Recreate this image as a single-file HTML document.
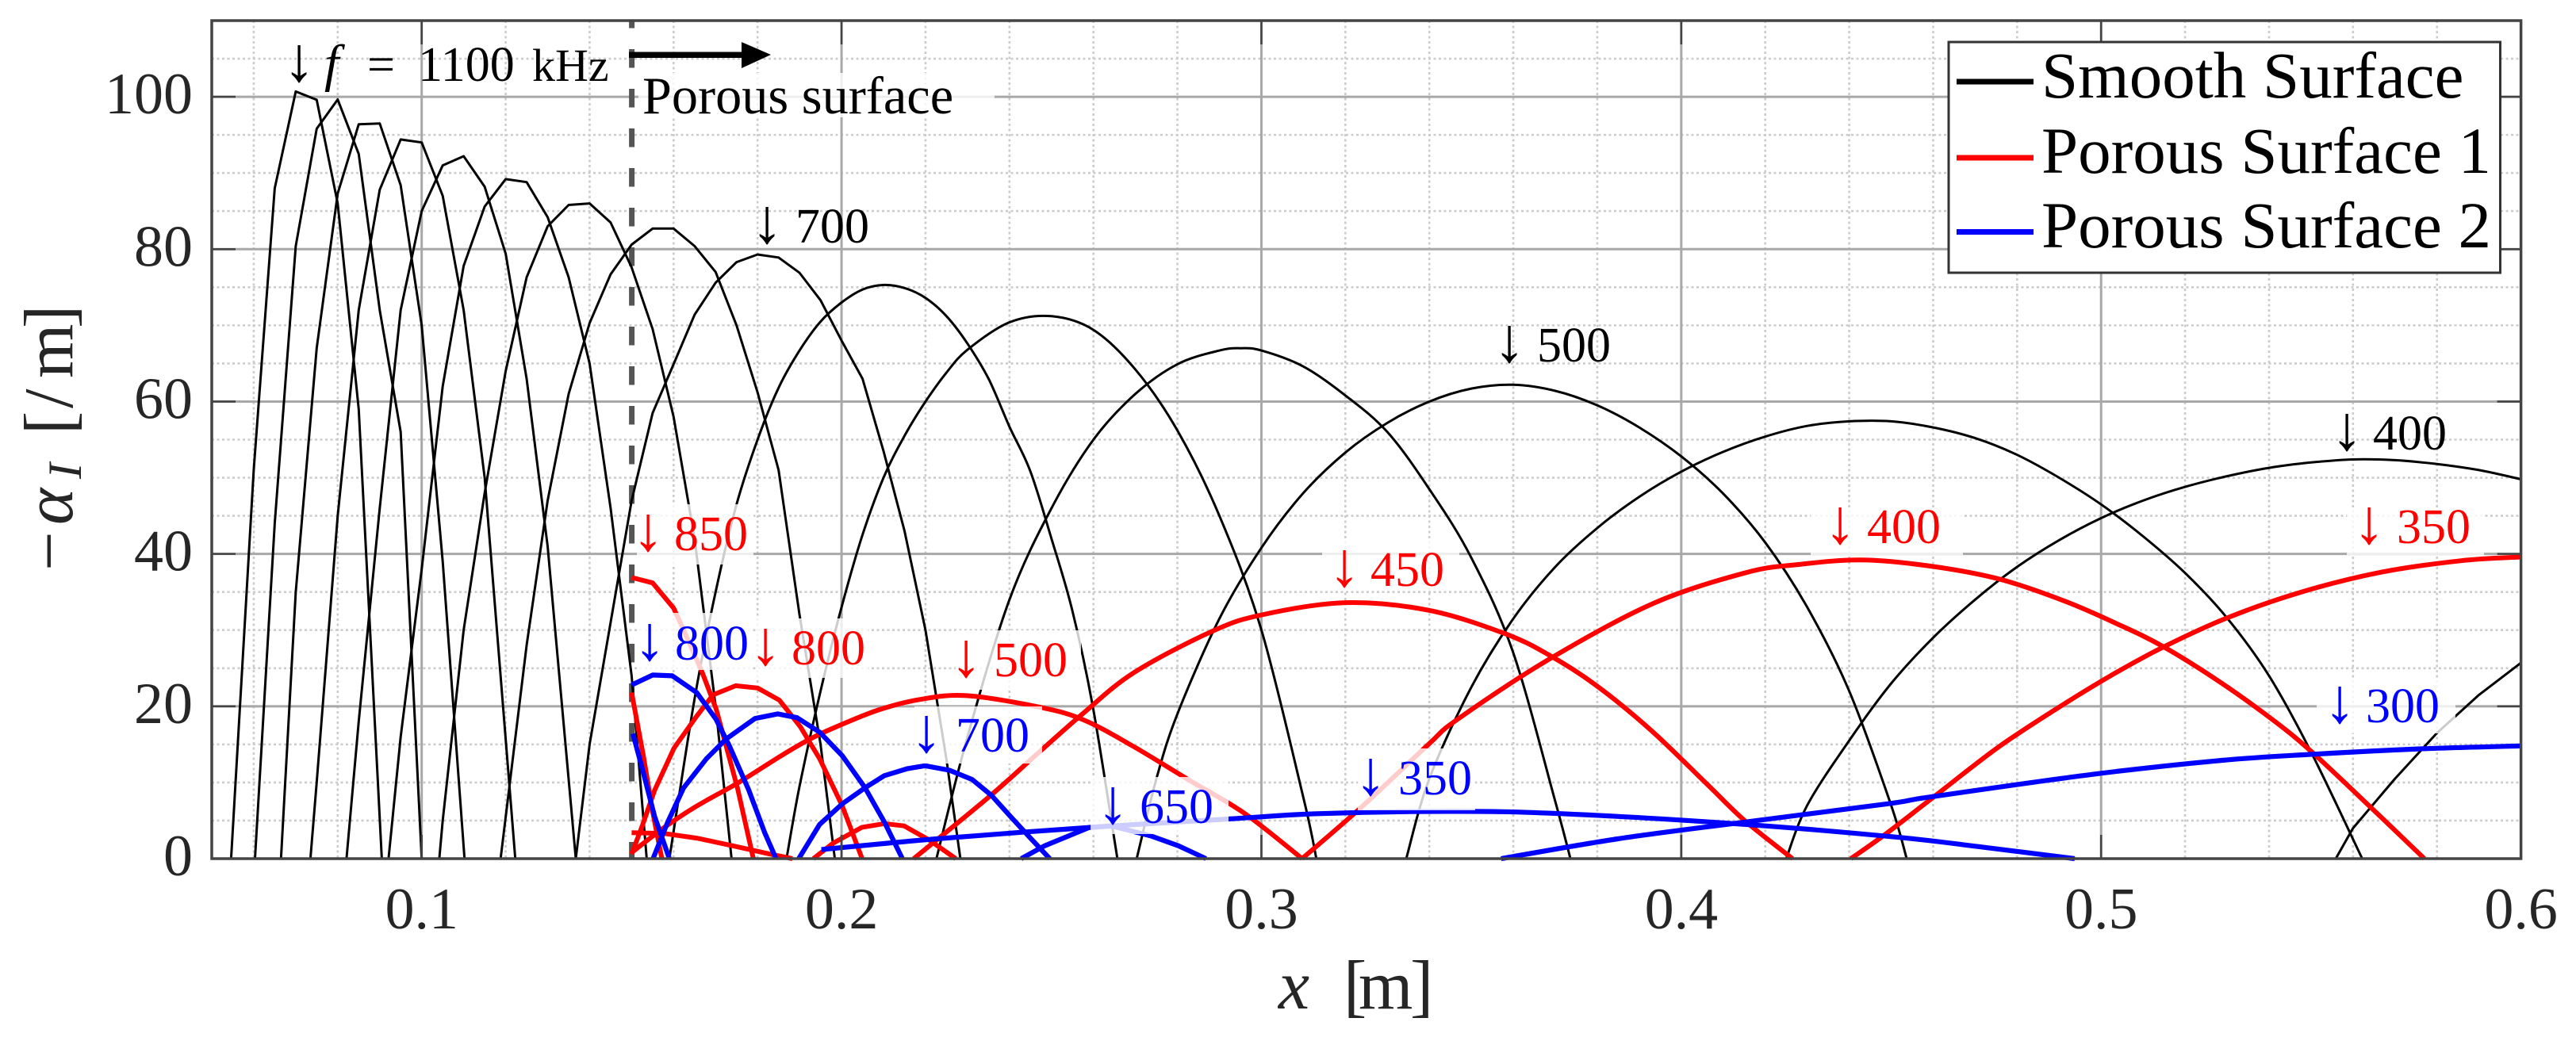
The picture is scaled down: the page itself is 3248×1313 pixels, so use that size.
<!DOCTYPE html>
<html lang="en">
<head>
<meta charset="utf-8">
<title>Growth rate versus x</title>
<style>
html,body{margin:0;padding:0;background:#fff;}
svg{display:block;}
text{font-family:"Liberation Serif",serif;}
.tick{font-size:74px;fill:#262626;}
.lbl{font-size:62px;}
.arr{font-size:80px;}
.box{fill:#fff;fill-opacity:.8;stroke:none;}
</style>
</head>
<body>
<svg id="chart" xmlns="http://www.w3.org/2000/svg" width="3248" height="1313" viewBox="0 0 3248 1313">
  <rect x="0" y="0" width="3248" height="1313" fill="#fff"/>
  <g id="grid"></g>
  <line x1="796.6" y1="26" x2="796.6" y2="1083" stroke="#555" stroke-width="7" stroke-dasharray="23.5 26.5" stroke-dashoffset="14"/>
  <g id="series"></g>

  <g>
    <rect class="box" x="805" y="92" width="449" height="56"/>
    <rect class="box" x="803" y="636" width="147" height="76"/>
    <rect class="box" x="805" y="773" width="143" height="72"/>
    <rect class="box" x="954" y="780" width="141" height="75"/>
    <rect class="box" x="1205" y="795" width="158" height="75"/>
    <rect class="box" x="1153" y="891" width="161" height="72"/>
    <rect class="box" x="1375" y="980" width="174" height="72"/>
    <rect class="box" x="1712" y="944" width="148" height="78"/>
    <rect class="box" x="1667" y="680" width="173" height="65"/>
    <rect class="box" x="2283" y="640" width="192" height="60"/>
    <rect class="box" x="2959" y="640" width="173" height="60"/>
    <rect class="box" x="2921" y="855" width="175" height="70"/>
  </g>

  <rect x="267" y="26" width="2911.6" height="1057" fill="none" stroke="#444" stroke-width="3.5"/>
  <g id="ticks"></g>

  <text y="1272" font-size="88" fill="#262626"><tspan x="1612" font-style="italic">x</tspan><tspan x="1694">[</tspan><tspan x="1713">m</tspan><tspan x="1778">]</tspan></text>
  <text transform="translate(91,720) rotate(-90)" font-size="88" fill="#262626"><tspan x="0">−</tspan><tspan x="58" font-style="italic">α</tspan><tspan x="116" dy="11" font-size="60" font-style="italic">I</tspan><tspan x="172" dy="-11">[</tspan><tspan x="205">/</tspan><tspan x="243">m</tspan><tspan x="306">]</tspan></text>

  <g fill="#000">
    <text class="arr" x="377" y="102" text-anchor="middle">↓</text>
    <text x="409" y="102" font-size="66" font-style="italic">f</text>
    <text class="lbl" x="463" y="102">=</text>
    <text class="lbl" x="527" y="102">1100</text>
    <text x="671" y="102" font-size="58">kHz</text>
  </g>
  <polygon fill="#000" points="793,65.5 935,65.5 935,53 972,69 935,86 935,73 793,73"/>
  <text x="810" y="143" font-size="66.3" fill="#000">Porous surface</text>

  <g fill="#000"><text class="arr" x="967" y="306" text-anchor="middle">↓</text><text class="lbl" x="1003" y="306">700</text></g>
  <g fill="#000"><text class="arr" x="1903" y="456" text-anchor="middle">↓</text><text class="lbl" x="1938" y="456">500</text></g>
  <g fill="#000"><text class="arr" x="2959" y="567" text-anchor="middle">↓</text><text class="lbl" x="2992" y="567">400</text></g>
  <g fill="#f00"><text class="arr" x="817" y="694" text-anchor="middle">↓</text><text class="lbl" x="850" y="694">850</text></g>
  <g fill="#f00"><text class="arr" x="965" y="838" text-anchor="middle">↓</text><text class="lbl" x="998" y="838">800</text></g>
  <g fill="#f00"><text class="arr" x="1218" y="853" text-anchor="middle">↓</text><text class="lbl" x="1253" y="853">500</text></g>
  <g fill="#f00"><text class="arr" x="1695" y="739" text-anchor="middle">↓</text><text class="lbl" x="1728" y="739">450</text></g>
  <g fill="#f00"><text class="arr" x="2320" y="685" text-anchor="middle">↓</text><text class="lbl" x="2354" y="685">400</text></g>
  <g fill="#f00"><text class="arr" x="2987" y="685" text-anchor="middle">↓</text><text class="lbl" x="3022" y="685">350</text></g>
  <g fill="#00f"><text class="arr" x="819" y="832" text-anchor="middle">↓</text><text class="lbl" x="851" y="832">800</text></g>
  <g fill="#00f"><text class="arr" x="1168" y="948" text-anchor="middle">↓</text><text class="lbl" x="1205" y="948">700</text></g>
  <g fill="#00f"><text class="arr" x="1403" y="1038" text-anchor="middle">↓</text><text class="lbl" x="1437" y="1038">650</text></g>
  <g fill="#00f"><text class="arr" x="1728" y="1002" text-anchor="middle">↓</text><text class="lbl" x="1763" y="1002">350</text></g>
  <g fill="#00f"><text class="arr" x="2950" y="911" text-anchor="middle">↓</text><text class="lbl" x="2983" y="911">300</text></g>

  <g>
    <rect x="2457" y="53" width="695.5" height="291" fill="#fff" stroke="#333" stroke-width="3"/>
    <line x1="2467" y1="103" x2="2564" y2="103" stroke="#000" stroke-width="7"/>
    <text x="2574" y="123" font-size="83" fill="#000">Smooth Surface</text>
    <line x1="2467" y1="199" x2="2564" y2="199" stroke="#f00" stroke-width="7"/>
    <text x="2574" y="218" font-size="83" fill="#000">Porous Surface 1</text>
    <line x1="2467" y1="292.5" x2="2564" y2="292.5" stroke="#00f" stroke-width="7"/>
    <text x="2574" y="312" font-size="83" fill="#000">Porous Surface 2</text>
  </g>
</svg>

<script>
// Axis values
const xTickValues = [0.1, 0.2, 0.3, 0.4, 0.5, 0.6];
const xMinorValues = [0.06, 0.08, 0.12, 0.14, 0.16, 0.18, 0.22, 0.24, 0.26, 0.28, 0.32, 0.34, 0.36, 0.38, 0.42, 0.44, 0.46, 0.48, 0.52, 0.54, 0.56, 0.58];
const yTickValues = [0, 20, 40, 60, 80, 100];
const yMinorValues = [5, 10, 15, 25, 30, 35, 45, 50, 55, 65, 70, 75, 85, 90, 95, 105];
const xTickLabels = ["0.1", "0.2", "0.3", "0.4", "0.5", "0.6"];
const yTickLabels = ["0", "20", "40", "60", "80", "100"];

// Smooth surface
const smooth1100X = [.0546,.06,.065,.07,.075,.08,.085,.0905];
const smooth1100Y = [0,51,88,100.7,99.6,86,59,0];
const smooth1050X = [.0603,.065,.07,.075,.08,.085,.09,.095,.1];
const smooth1050Y = [0,44,80.4,95.8,99.65,92.5,72,56,0];
const smooth1000X = [.0665,.07,.075,.08,.085,.09,.095,.1,.105,.1102];
const smooth1000Y = [0,35,67,87.3,96.4,96.5,88.4,70,39,0];
const smooth950X = [.0735,.075,.08,.085,.09,.095,.1,.105,.11,.115,.1223];
const smooth950Y = [0,10,45,72,87.8,94.4,94,87,72,50,0];
const smooth900X = [.0821,.085,.09,.095,.1,.105,.11,.115,.12,.125,.13,.1367];
const smooth900Y = [0,18,46,72,85,91,92.2,88.2,79.4,63,41,0];
const smooth850X = [.0921,.095,.1,.105,.11,.115,.12,.125,.13,.135,.14,.145,.15,.1536];
const smooth850Y = [0,16,38,62,77.8,85.6,89.2,88.8,84.2,76.3,65,46,24,0];
const smooth800X = [.1042,.105,.11,.115,.12,.125,.13,.135,.14,.145,.15,.155,.16,.165,.17,.1738];
const smooth800Y = [0,5,30,48,64,76.3,83,85.8,86,83.5,77.6,69.5,58,42,20,0];
const smooth750X = [.1188,.125,.13,.135,.14,.145,.15,.155,.16,.165,.17,.175,.18,.185,.19,.195,.1984];
const smooth750Y = [0,28,47,61,70.3,76.7,80.6,82.7,82.7,80.4,77,70,61.2,51,32,15,0];
const smooth700X = [.1367,.14,.145,.15,.155,.16,.165,.17,.175,.18,.185,.19,.195,.2,.205,.21,.215,.22,.225,.2283];
const smooth700Y = [0,15,31,47,58.5,64.9,71.4,75.6,78.3,79.3,78.9,76.9,73.3,68,63,53.5,43,30,13,0];
const smooth650X = [.159,.165,.17,.175,.18,.185,.19,.195,.2,.205,.21,.215,.22,.225,.23,.235,.24,.245,.25,.255,.26,.2657];
const smooth650Y = [0,21,35,46.5,55,61.8,66.7,70.5,73,74.7,75.3,74.9,73.6,71.2,67.6,63,56.7,50.8,42,32.5,19.5,0];
const smooth600X = [.1869,.19,.195,.2,.205,.21,.215,.22,.225,.23,.24,.25,.26,.27,.28,.29,.3,.31,.3131];
const smooth600Y = [0,9.5,22,33,42.5,50,55.5,60,63.8,66.8,70.4,71.2,69.4,64.2,56.2,45,30,8,0];
const smooth550X = [.2226,.23,.24,.25,.26,.27,.28,.29,.295,.3,.31,.32,.33,.34,.35,.36,.37,.3736];
const smooth550Y = [0,16,34,46,55,61,64.9,66.7,67,66.7,64.6,60.8,56,48.5,39.5,27,7.5,0];
const smooth500X = [.2703,.275,.28,.29,.3,.31,.32,.33,.34,.35,.36,.37,.38,.39,.4,.41,.42,.43,.44,.45,.4537];
const smooth500Y = [0,10.5,19,31.5,40.8,48,53.3,57.2,60,61.7,62.2,61.4,59.5,56.6,52.8,47.9,41.5,33,22,7,0];
const smooth450X = [.3345,.34,.35,.36,.37,.38,.39,.4,.41,.42,.43,.44,.45,.46,.47,.48,.49,.5,.51,.52,.53,.54,.55,.5622];
const smooth450Y = [0,10.5,22.5,31.5,38.3,43.4,47.5,50.8,53.4,55.4,56.8,57.4,57.4,56.6,55.2,53,50,46.5,42.3,37.5,31.6,24,14,0];
const smooth400X = [.425,.43,.44,.45,.46,.47,.48,.49,.5,.51,.52,.53,.54,.55,.56,.57,.58,.59,.6];
const smooth400Y = [0,7,15.5,23,29,34,38.3,41.8,44.7,47,48.8,50.2,51.3,52,52.4,52.3,51.8,51,49.8];
const smooth350X = [.5559,.56,.57,.58,.59,.6];
const smooth350Y = [0,4,10.5,16.5,21.5,25.7];

// Porous surface 1
const porousOne850X = [.15,.155,.16,.1624,.1667,.1701,.1752,.179];
const porousOne850Y = [36.9,36.2,32.9,30,24.6,19.7,9.3,0];
const porousOne900X = [.15,.1528,.1551,.1572];
const porousOne900Y = [21.8,13.5,5.9,0];
const porousOne800X = [.15,.1524,.1555,.1601,.1655,.1694,.1748,.18,.1852,.1902,.1948,.2002,.2049];
const porousOne800Y = [.6,4.1,9,14.5,18.7,21.5,22.7,22.4,20.8,17.3,13.1,6.9,0];
const porousOne750X = [.15,.1578,.1655,.174,.1825,.1883];
const porousOne750Y = [3.4,3.3,2.7,1.7,.66,0];
const porousOne600X = [.1933,.1979,.2048,.2102,.2149,.221,.2272];
const porousOne600Y = [0,2,4.1,4.6,4.3,2.4,0];
const porousOne500X = [.15,.1578,.1655,.1755,.1856,.1925,.1987,.2087,.2187,.2298,.2471,.2577,.2696,.2828,.2961,.3097];
const porousOne500Y = [.8,4.1,6.9,10,13.5,15.7,17.3,19.5,20.9,21.4,19.9,18.2,14.7,10.3,5.9,0];
const porousOne450X = [.2172,.2351,.2471,.2574,.2696,.2881,.3001,.32,.3398,.3577,.3683,.3796,.3929,.4061,.4151,.4265];
const porousOne450Y = [0,8.1,14,19,24.4,29.8,32,33.6,32.6,29.6,26.8,22.8,16.8,9.8,5,0];
const porousOne400X = [.3097,.3239,.3398,.3465,.3683,.3929,.4151,.4277,.4429,.4593,.4757,.4909,.5035,.5149,.5288,.5414,.5502,.5641,.577];
const porousOne400Y = [0,6.8,15,18.2,26.1,33.4,37.5,38.6,39.2,38.4,36.7,33.9,30.9,27.8,23,18,14,6.8,0];
const porousOne350X = [.4404,.4486,.4606,.4757,.4909,.5035,.5149,.53,.5477,.5667,.5856,.6];
const porousOne350Y = [0,3.2,8.3,14.7,20.2,24.4,27.8,31.6,35,37.6,39.1,39.6];

// Porous surface 2
const porousTwo850X = [.1503,.1524,.1555,.159];
const porousTwo850Y = [16.4,12.1,5.5,0];
const porousTwo800X = [.15,.155,.1597,.1655,.1701,.1732,.1779,.1817,.1844];
const porousTwo800Y = [22.8,24.1,24,21.8,18.3,14.9,9,3.4,0];
const porousTwo750X = [.1551,.1586,.1624,.1678,.1725,.1794,.1848,.1894,.1948,.2002,.2056,.2102,.2145];
const porousTwo750Y = [0,4.8,9.3,13.1,15.7,18.4,19,18.5,16.6,13.5,9.3,4.8,0];
const porousTwo700X = [.1898,.1948,.2002,.2056,.2102,.2156,.2199,.2257,.2311,.2357,.2403,.245,.2496];
const porousTwo700Y = [0,4.5,7.2,9.3,10.9,11.8,12.2,11.6,10.4,8.3,5.5,2.7,0];
const porousTwo650X = [.2428,.2484,.259,.2643,.2736,.2802,.2868];
const porousTwo650Y = [0,1.7,4.1,4.3,3,1.7,0];
const porousTwo350X = [.1952,.2226,.2592,.2921,.3133,.3451,.3716,.4151,.4517,.4719,.4937];
const porousTwo350Y = [1.2,2.6,4.1,5.2,5.9,6.2,5.9,4.5,2.8,1.5,0];
const porousTwo300X = [.3571,.3849,.4151,.4492,.4593,.4985,.5288,.5502,.5755,.6];
const porousTwo300Y = [0,2.6,4.8,7.2,8.1,11.1,12.9,13.7,14.4,14.8];

const smoothSeries = [
  ["smooth-1100", smooth1100X, smooth1100Y], ["smooth-1050", smooth1050X, smooth1050Y],
  ["smooth-1000", smooth1000X, smooth1000Y], ["smooth-950", smooth950X, smooth950Y],
  ["smooth-900", smooth900X, smooth900Y], ["smooth-850", smooth850X, smooth850Y],
  ["smooth-800", smooth800X, smooth800Y], ["smooth-750", smooth750X, smooth750Y],
  ["smooth-700", smooth700X, smooth700Y], ["smooth-650", smooth650X, smooth650Y],
  ["smooth-600", smooth600X, smooth600Y], ["smooth-550", smooth550X, smooth550Y],
  ["smooth-500", smooth500X, smooth500Y], ["smooth-450", smooth450X, smooth450Y],
  ["smooth-400", smooth400X, smooth400Y], ["smooth-350", smooth350X, smooth350Y]
];
const porousOneSeries = [
  ["porous-1-900", porousOne900X, porousOne900Y], ["porous-1-850", porousOne850X, porousOne850Y],
  ["porous-1-800", porousOne800X, porousOne800Y], ["porous-1-750", porousOne750X, porousOne750Y],
  ["porous-1-600", porousOne600X, porousOne600Y], ["porous-1-500", porousOne500X, porousOne500Y],
  ["porous-1-450", porousOne450X, porousOne450Y], ["porous-1-400", porousOne400X, porousOne400Y],
  ["porous-1-350", porousOne350X, porousOne350Y]
];
const porousTwoSeries = [
  ["porous-2-850", porousTwo850X, porousTwo850Y], ["porous-2-800", porousTwo800X, porousTwo800Y],
  ["porous-2-750", porousTwo750X, porousTwo750Y], ["porous-2-700", porousTwo700X, porousTwo700Y],
  ["porous-2-650", porousTwo650X, porousTwo650Y], ["porous-2-350", porousTwo350X, porousTwo350Y],
  ["porous-2-300", porousTwo300X, porousTwo300Y]
];

const SVG_NS = "http://www.w3.org/2000/svg";
const plotLeft = 267, plotRight = 3178.6, plotTop = 26, plotBottom = 1083;
const xMin = 0.05, xMax = 0.6, yMin = 0, yMax = 110;
function xScale(v) { return plotLeft + (v - xMin) / (xMax - xMin) * (plotRight - plotLeft); }
function yScale(v) { return plotBottom - (v - yMin) / (yMax - yMin) * (plotBottom - plotTop); }

const gridLayer = document.getElementById("grid");
const seriesLayer = document.getElementById("series");
const tickLayer = document.getElementById("ticks");

function makeLine(parent, x1, y1, x2, y2, stroke, width, dash) {
  const el = document.createElementNS(SVG_NS, "line");
  el.setAttribute("x1", x1);
  el.setAttribute("y1", y1);
  el.setAttribute("x2", x2);
  el.setAttribute("y2", y2);
  el.setAttribute("stroke", stroke);
  el.setAttribute("stroke-width", width);
  if (dash) el.setAttribute("stroke-dasharray", dash);
  parent.appendChild(el);
  return el;
}
function makeText(parent, x, y, str, anchor) {
  const el = document.createElementNS(SVG_NS, "text");
  el.setAttribute("x", x);
  el.setAttribute("y", y);
  el.setAttribute("class", "tick");
  el.setAttribute("text-anchor", anchor);
  el.textContent = str;
  parent.appendChild(el);
  return el;
}

xMinorValues.forEach(function (v) {
  const el = makeLine(gridLayer, xScale(v), plotTop, xScale(v), plotBottom, "#cccccc", 2.6, "3 3.5");
  
  
});
yMinorValues.forEach(function (v) {
  const el = makeLine(gridLayer, plotLeft, yScale(v), plotRight, yScale(v), "#cccccc", 2.6, "3 3.5");
  
  
});
xTickValues.forEach(function (v) {
  const el = makeLine(gridLayer, xScale(v), plotTop, xScale(v), plotBottom, "#a8a8a8", 3);
  
  
});
yTickValues.forEach(function (v) {
  const el = makeLine(gridLayer, plotLeft, yScale(v), plotRight, yScale(v), "#a8a8a8", 3);
  
  
});

// Long lobes are drawn as smooth curves through their points; short ones keep straight segments.
function curvePath(px, py) {
  let d = "M" + px[0].toFixed(1) + " " + py[0].toFixed(1);
  for (let i = 0; i < px.length - 1; i++) {
    const i0 = Math.max(i - 1, 0), i3 = Math.min(i + 2, px.length - 1);
    const c1x = px[i] + (px[i + 1] - px[i0]) / 6, c1y = py[i] + (py[i + 1] - py[i0]) / 6;
    const c2x = px[i + 1] - (px[i3] - px[i]) / 6, c2y = py[i + 1] - (py[i3] - py[i]) / 6;
    d += " C" + c1x.toFixed(1) + " " + c1y.toFixed(1) + " " + c2x.toFixed(1) + " " + c2y.toFixed(1) + " " + px[i + 1].toFixed(1) + " " + py[i + 1].toFixed(1);
  }
  return d;
}
function drawCurve(entry, colour, width) {
  const xs = entry[1], ys = entry[2];
  const px = xs.map(xScale), py = ys.map(yScale);
  let d;
  if (xs[xs.length - 1] - xs[0] > 0.1) {
    d = curvePath(px, py);
  } else {
    d = "M" + px.map(function (x, i) { return x.toFixed(1) + " " + py[i].toFixed(1); }).join(" L");
  }
  const el = document.createElementNS(SVG_NS, "path");
  
  
  el.setAttribute("d", d);
  el.setAttribute("fill", "none");
  el.setAttribute("stroke", colour);
  el.setAttribute("stroke-width", width);
  el.setAttribute("stroke-linejoin", "round");
  seriesLayer.appendChild(el);
}
smoothSeries.forEach(function (s) { drawCurve(s, "#000", 3); });
porousOneSeries.forEach(function (s) { drawCurve(s, "#f00", 6); });
porousTwoSeries.forEach(function (s) { drawCurve(s, "#00f", 6.2); });

xTickValues.forEach(function (v, i) {
  const a = makeLine(tickLayer, xScale(v), plotBottom, xScale(v), plotBottom - 30, "#444", 2.6);
  
  
  const b = makeLine(tickLayer, xScale(v), plotTop, xScale(v), plotTop + 30, "#444", 2.6);
  
  
  const t = makeText(tickLayer, xScale(v), 1171, xTickLabels[i], "middle");
  
  
});
yTickValues.forEach(function (v, i) {
  const a = makeLine(tickLayer, plotLeft, yScale(v), plotLeft + 30, yScale(v), "#444", 2.6);
  
  
  const b = makeLine(tickLayer, plotRight, yScale(v), plotRight - 30, yScale(v), "#444", 2.6);
  
  
  const t = makeText(tickLayer, 243, yScale(v) + 21, yTickLabels[i], "end");
  
  
});
</script>
</body>
</html>
